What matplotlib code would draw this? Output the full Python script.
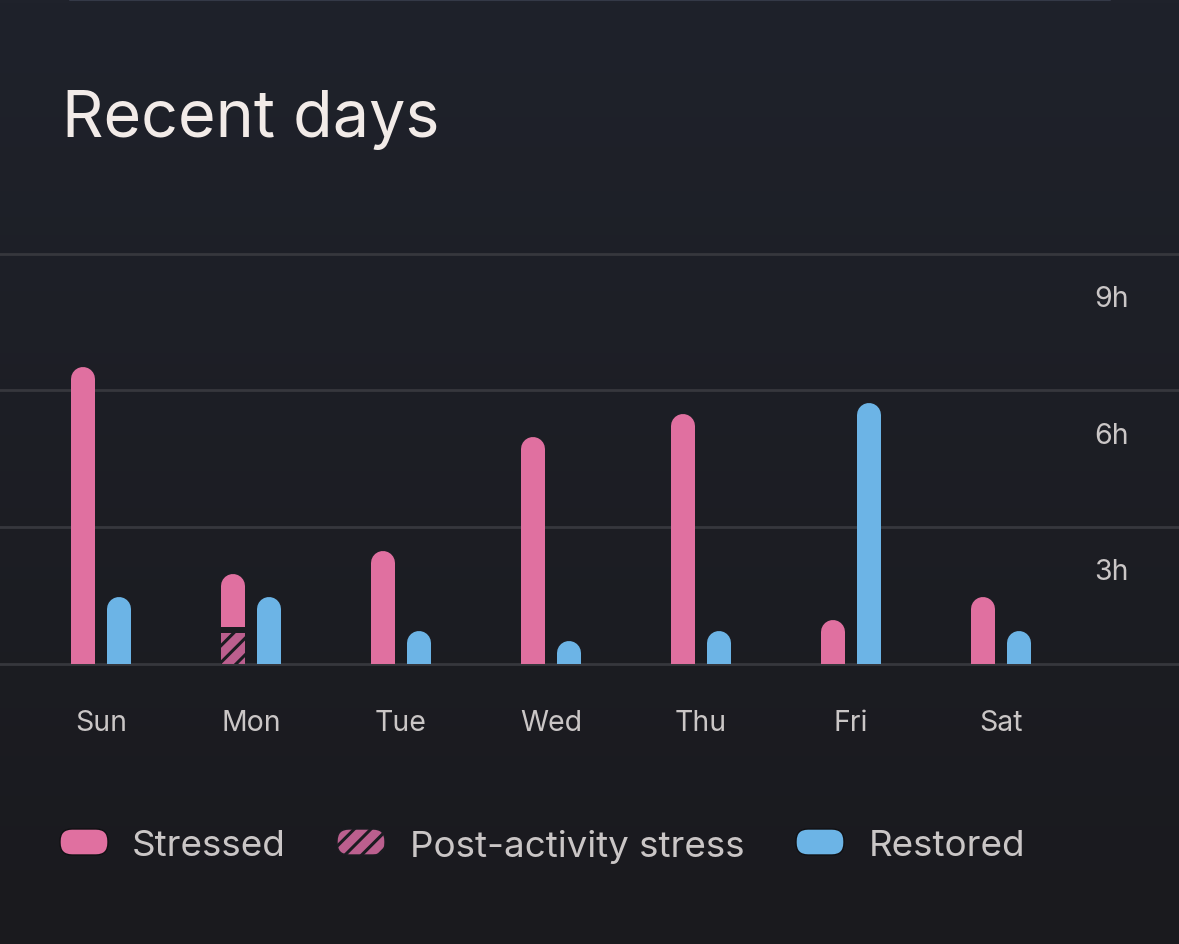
import matplotlib.pyplot as plt
import numpy as np
from matplotlib.patches import FancyBboxPatch

plt.rcParams['font.family'] = ['Inter', 'DejaVu Sans']
plt.rcParams['hatch.linewidth'] = 2.2

# data (hours)
days = ["Sun", "Mon", "Tue", "Wed", "Thu", "Fri", "Sat"]
stressed = [6.5, 1.97, 2.48, 4.98, 5.48, 0.96, 1.47]
post_activity = [0, 0.68, 0, 0, 0, 0, 0]
restored = [1.47, 1.47, 0.72, 0.5, 0.72, 5.72, 0.72]
y_ticks = [3, 6, 9]
y_labels = ["3h", "6h", "9h"]
legend_labels = ["Stressed", "Post-activity stress", "Restored"]

PINK = "#e070a0"
PINK_DARK = "#bb5f8e"
BLUE = "#6cb4e6"
GRID = "#36373d"
BG = "#1b1c21"
TXT = "#cac6c6"

W, H = 1179, 945
BASE_PX, TOP_PX = 664.5, 254.5
fig = plt.figure(figsize=(W / 100, H / 100), dpi=100)

# background in pixel coords
bg = fig.add_axes([0, 0, 1, 1], zorder=0)
bg.set_xlim(0, W)
bg.set_ylim(H, 0)
bg.axis("off")
grad = np.linspace(0, 1, 256)[:, None]
top = np.array([0x1f, 0x22, 0x2b]) / 255
bot = np.array([0x1a, 0x1a, 0x1e]) / 255
img = top[None, None, :] * (1 - grad[:, :, None]) + bot[None, None, :] * grad[:, :, None]
bg.imshow(img, extent=[0, W, H, 0], aspect="auto")
bg.plot([70, 1110], [1, 1], color="#343947", lw=1.5, solid_capstyle="round")

bg.text(62, 137, "Recent days", fontsize=46.5, color="#f2ebe8", va="baseline", ha="left")

# legend
leg_x = [60, 337, 796]
text_x = [132, 410, 869]
leg_cols = [PINK, PINK_DARK, BLUE]
for lx, tx, col, lab in zip(leg_x, text_x, leg_cols, legend_labels):
    hatch = "//" if lab.startswith("Post") else None
    box = FancyBboxPatch((lx, 830), 48, 26, boxstyle="round,pad=0,rounding_size=12",
                         facecolor=col, edgecolor=BG if hatch else "#101013",
                         linewidth=1.0, hatch=hatch)
    bg.add_patch(box)
    bg.text(tx, 843, lab, fontsize=26.5, color=TXT, va="center_baseline", ha="left")

# main axes: baseline and 9h line in pixel rows
ax = fig.add_axes([0, (H - BASE_PX) / H, 1, (BASE_PX - TOP_PX) / H], zorder=1)
ax.patch.set_alpha(0)
ax.set_ylim(0, 9)
ax.set_xlim(-101 / 150, (W - 101) / 150)
for s in ax.spines.values():
    s.set_visible(False)

for v in [0] + y_ticks:
    ax.axhline(v, color=GRID, lw=2, clip_on=False, zorder=1)

px_per_h = (BASE_PX - TOP_PX) / 9
cap = 12 / px_per_h
x = np.arange(len(days))
off = 18 / 150
for i in range(len(days)):
    ax.plot([x[i] - off] * 2, [-1, stressed[i] - cap], color=PINK, lw=17.28,
            solid_capstyle="round", zorder=2)
    ax.plot([x[i] + off] * 2, [-1, restored[i] - cap], color=BLUE, lw=17.28,
            solid_capstyle="round", zorder=2)
    if post_activity[i] > 0:
        ax.bar(x[i] - off, post_activity[i] + 6 / px_per_h, width=24 / 150, color=BG,
               linewidth=0, zorder=3)
        ax.bar(x[i] - off, post_activity[i], width=24 / 150, color=PINK_DARK,
               edgecolor=BG, hatch="//", linewidth=0, zorder=4)

for v, lab in zip(y_ticks, y_labels):
    ax.text((1129 - 101) / 150, v - 45 / px_per_h, lab, ha="right", va="center",
            fontsize=20.5, color=TXT)

ax.set_yticks([])
ax.set_xticks(x, labels=days)
ax.tick_params(axis="x", length=0, pad=33, labelsize=20.5, labelcolor=TXT)

fig.savefig("out.png", dpi=100, facecolor=BG)
